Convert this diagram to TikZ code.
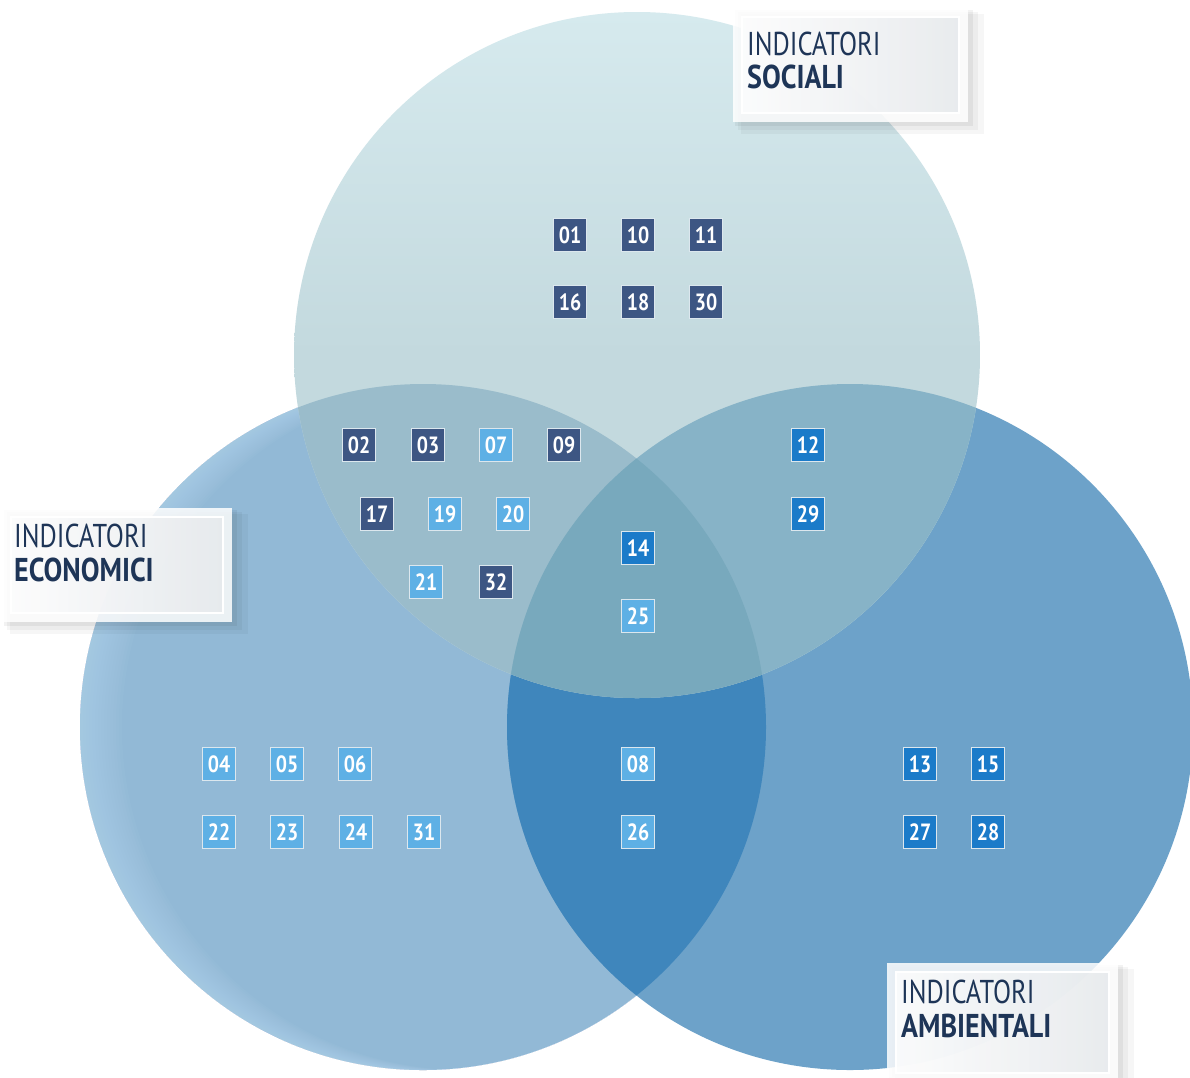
\documentclass[tikz,border=0pt]{standalone}
\usepackage{fontspec}
\setmainfont{PT Sans}
\newfontfamily\numfont[FakeStretch=0.84]{PT Sans}
\newfontfamily\labfont[FakeStretch=0.80]{PT Sans}
\newfontfamily\labbfont[FakeStretch=0.85]{PT Sans}
\definecolor{cT}{HTML}{C3D9DE}
\definecolor{cTtop}{HTML}{D6EAEE}
\definecolor{cL}{HTML}{92B9D6}
\definecolor{cLedge}{HTML}{B4D6EE}
\definecolor{cR}{HTML}{6DA2C9}
\definecolor{cLR}{HTML}{3F86BC}
\definecolor{cTL}{HTML}{9ABCCB}
\definecolor{cTR}{HTML}{87B3C7}
\definecolor{cTLR}{HTML}{78A9BD}
\definecolor{dk}{HTML}{3D5683}
\definecolor{lt}{HTML}{5EB0E5}
\definecolor{md}{HTML}{1B7BC9}
\definecolor{edge}{HTML}{DCE7EE}
\definecolor{navy}{HTML}{1E3557}
\definecolor{labin}{HTML}{E6E9EC}
\tikzset{
  ibox/.style={draw=edge, line width=1.4pt, minimum width=32.5pt, minimum height=32.5pt,
    inner sep=0pt, text=white, font=\numfont\bfseries\fontsize{23.5}{23.5}\selectfont},
  bdk/.style={ibox, fill=dk},
  blt/.style={ibox, fill=lt},
  bmd/.style={ibox, fill=md},
  labt/.style={anchor=base west, inner sep=0pt, text=navy, font=\labfont\fontsize{33}{33}\selectfont},
  labb/.style={labt, font=\labbfont\bfseries\fontsize{33}{33}\selectfont},
}
\newcommand{\labelframe}[4]{%
  \fill[black, opacity=0.035] (#1+8,#2+6) rectangle (#3+16,#4+12);
  \fill[black, opacity=0.04] (#1+5,#2+4) rectangle (#3+10,#4+8);
  \fill[black, opacity=0.05] (#1+2,#2+2) rectangle (#3+5,#4+4);
  \fill[white, opacity=0.85] (#1,#2) rectangle (#3,#4);
  \shade[left color=white!90!labin, right color=labin, opacity=0.85] (#1+9,#2+9) rectangle (#3-9,#4-9);
  \draw[white, line width=1.5pt] (#1+9,#2+9) rectangle (#3-9,#4-9);
}
\begin{document}
\begin{tikzpicture}[x=1pt,y=-1pt]
\useasboundingbox (0,0) rectangle (1190,1077);
\clip (0,0) rectangle (1190,1077);
\fill[white] (0,0) rectangle (1190,1077);
\coordinate (T) at (637,355);
\coordinate (L) at (423,727);
\coordinate (R) at (850,727);
\def\rad{343pt}
% circles
\fill[cL] (L) circle[radius=\rad];
\begin{scope}
  \clip (L) circle[radius=\rad];
  \foreach \d in {3,6,...,42} {
    \fill[cLedge, opacity=0.07, even odd rule] (L) circle[radius=\rad] (423+\d,727) circle[radius=\rad];
  }
\end{scope}
\fill[cR] (R) circle[radius=\rad];
\begin{scope}
  \clip (L) circle[radius=\rad];
  \fill[cLR] (R) circle[radius=\rad];
\end{scope}
\shade[top color=cTtop, bottom color=cT, middle color=cT] (T) circle[radius=\rad];
\begin{scope}
  \clip (T) circle[radius=\rad];
  \fill[cTL] (L) circle[radius=\rad];
  \fill[cTR] (R) circle[radius=\rad];
  \clip (L) circle[radius=\rad];
  \fill[cTLR] (R) circle[radius=\rad];
\end{scope}
% number boxes
\node[bdk] (n01) at (570,235) {01};
\node[bdk] (n10) at (638,235) {10};
\node[bdk] (n11) at (706,235) {11};
\node[bdk] (n16) at (570,302) {16};
\node[bdk] (n18) at (638,302) {18};
\node[bdk] (n30) at (706,302) {30};
\node[bdk] (n02) at (359,445) {02};
\node[bdk] (n03) at (428,445) {03};
\node[blt] (n07) at (496,445) {07};
\node[bdk] (n09) at (564,445) {09};
\node[bmd] (n12) at (808,445) {12};
\node[bdk] (n17) at (377,514) {17};
\node[blt] (n19) at (445,514) {19};
\node[blt] (n20) at (513,514) {20};
\node[bmd] (n29) at (808,514) {29};
\node[blt] (n21) at (426,582) {21};
\node[bdk] (n32) at (496,582) {32};
\node[bmd] (n14) at (638,548) {14};
\node[blt] (n25) at (638,616) {25};
\node[blt] (n04) at (219,764) {04};
\node[blt] (n05) at (287,764) {05};
\node[blt] (n06) at (355,764) {06};
\node[blt] (n08) at (638,764) {08};
\node[bmd] (n13) at (920,764) {13};
\node[bmd] (n15) at (988,764) {15};
\node[blt] (n22) at (219,832) {22};
\node[blt] (n23) at (287,832) {23};
\node[blt] (n24) at (356,832) {24};
\node[blt] (n31) at (424,832) {31};
\node[blt] (n26) at (638,832) {26};
\node[bmd] (n27) at (920,832) {27};
\node[bmd] (n28) at (988,832) {28};
% label frames
\labelframe{733}{8}{968}{122}
\node[labt] (sT1) at (747,55) {INDICATORI};
\node[labb] (sT2) at (747,88) {SOCIALI};
\labelframe{2}{508}{232}{622}
\node[labt] (eT1) at (14,547) {INDICATORI};
\node[labb] (eT2) at (14,581) {ECONOMICI};
\labelframe{887}{963}{1118}{1082}
\node[labt] (aT1) at (901,1003) {INDICATORI};
\node[labb] (aT2) at (901,1037) {AMBIENTALI};
\end{tikzpicture}
\end{document}
